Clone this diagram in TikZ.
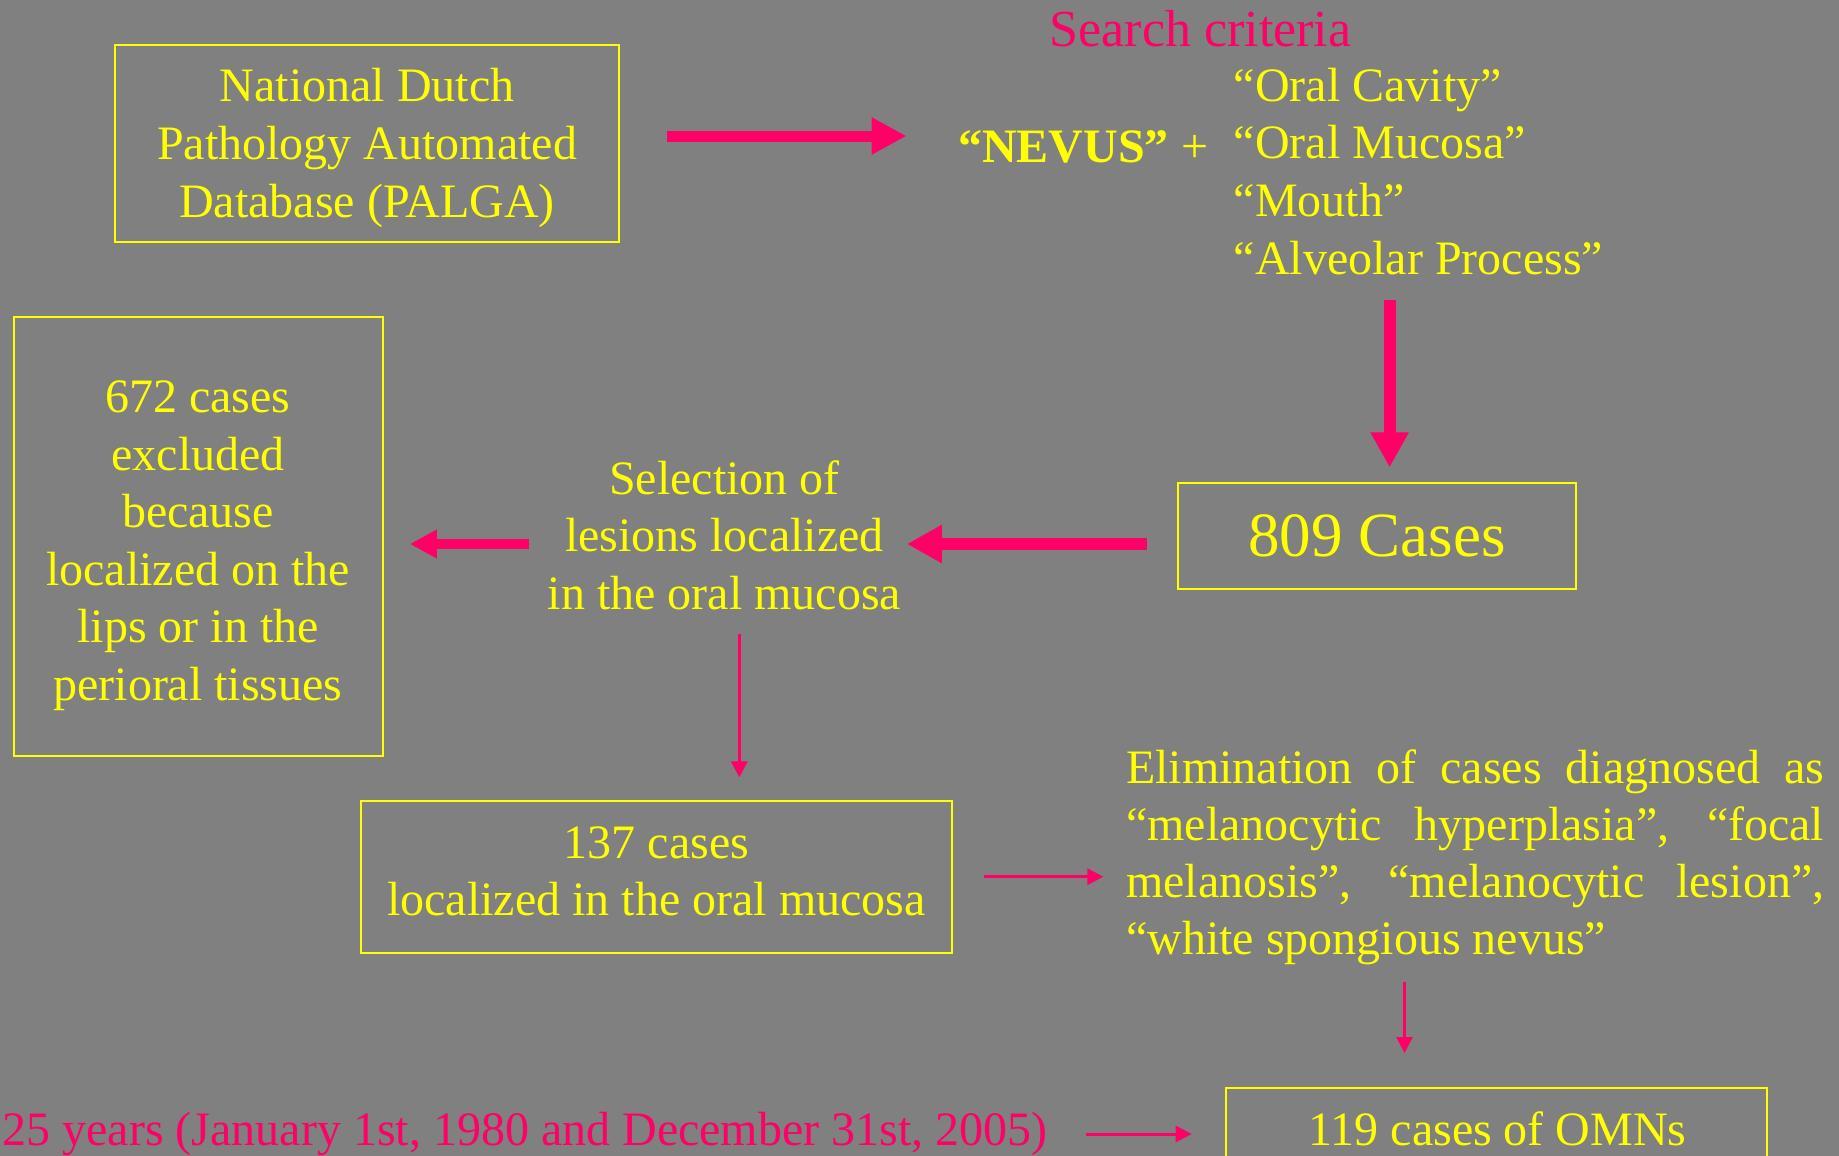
\documentclass[tikz,border=0pt]{standalone}
\usepackage{fontspec}
\setmainfont{Liberation Serif}
\usetikzlibrary{arrows.meta}
\definecolor{bg}{HTML}{808080}
\definecolor{ylw}{HTML}{FFFF00}
\definecolor{pnk}{HTML}{FF0066}
\newcommand{\txtsz}{\fontsize{48}{57.5}\selectfont}
\begin{document}
\begin{tikzpicture}[x=1pt,y=-1pt,
  ybox/.style={draw=ylw, line width=2pt, inner sep=0, fill=none},
  ytxt/.style={text=ylw, inner sep=0, anchor=base, font=\txtsz, yshift=-1.2pt},
  ptxt/.style={text=pnk, inner sep=0, anchor=base, font=\txtsz, yshift=-1.2pt},
  fatarrow/.style={draw=pnk, line width=12pt, -{Triangle[length=35pt,width=36pt]}},
  midarrow/.style={draw=pnk, line width=10pt, -{Triangle[length=27pt,width=27pt]}},
  thinarrow/.style={draw=pnk, line width=3pt, -{Triangle[length=16pt,width=16pt]}}]
\useasboundingbox (0,0) rectangle (1839,1156);
\clip (0,0) rectangle (1839,1156);
\fill[bg] (0,0) rectangle (1839,1156);

% PALGA box
\node[ybox, minimum width=504pt, minimum height=197pt] (palga) at (367,143.5) {};
\node[ytxt, font=\fontsize{48}{58}\selectfont] (palgatext) at (367,100.7)
  {\begin{tabular}[t]{@{}c@{}}National Dutch\\Pathology Automated\\Database (PALGA)\end{tabular}};

% Search criteria
\node[ptxt, font=\fontsize{52}{60}\selectfont] (crit) at (1200.5,45) {Search criteria};
\node[ytxt, anchor=base west] (nevus) at (958,161.7) {\bfseries “NEVUS”};
\node[ytxt] (plus) at (1195,161.7) {+};
\node[ytxt, anchor=base west, font=\fontsize{48}{57.7}\selectfont] (terms) at (1233.6,100)
  {\begin{tabular}[t]{@{}l@{}}“Oral Cavity”\\“Oral Mucosa”\\“Mouth”\\“Alveolar Process”\end{tabular}};

% 809 cases
\node[ybox, minimum width=398pt, minimum height=106pt] (c809) at (1377,536.3) {};
\node[ytxt, font=\fontsize{63}{70}\selectfont] (c809text) at (1377,555) {809 Cases};

% 672 box
\node[ybox, minimum width=369pt, minimum height=438.7pt] (box672) at (198,536.3) {};
\node[ytxt] (box672text) at (198,411.7)
  {\begin{tabular}[t]{@{}c@{}}672 cases\\excluded\\because\\localized on the\\lips or in the\\perioral tissues\end{tabular}};

% Selection
\node[ytxt] (select) at (724.5,493)
  {\begin{tabular}[t]{@{}c@{}}Selection of\\lesions localized\\in the oral mucosa\end{tabular}};

% 137 box
\node[ybox, minimum width=591pt, minimum height=151.7pt] (box137) at (656.5,876.9) {};
\node[ytxt, font=\fontsize{48}{56.5}\selectfont] (box137text) at (656.5,857.5)
  {\begin{tabular}[t]{@{}c@{}}137 cases\\localized in the oral mucosa\end{tabular}};

% Elimination
\node[ytxt, anchor=base west, font=\fontsize{48}{57}\selectfont] (elim) at (1126,782)
  {\begin{tabular}[t]{@{}l@{}}\makebox[698pt][s]{Elimination of cases diagnosed as}\\
   \makebox[698pt][s]{“melanocytic hyperplasia”, “focal}\\
   \makebox[698pt][s]{melanosis”, “melanocytic lesion”,}\\
   “white spongious nevus”\end{tabular}};

% 119 box
\node[ybox, minimum width=541.8pt, minimum height=110pt] (box119) at (1496.4,1143.3) {};
\node[ytxt] (box119text) at (1497.6,1144) {119 cases of OMNs};

% 25 years
\node[ptxt, anchor=base west] (years) at (2.3,1144) {25 years (January 1st, 1980 and December 31st, 2005)};

% connectors
\draw[draw=pnk, line width=11pt, -{Triangle[length=35pt,width=35pt]}]
  ([shift={(47,-7.5)}]palga.east) -- ([shift={(286.5,-7.5)}]palga.east);
\draw[fatarrow] ([shift={(12.6,-182.6)}]c809.north) -- ([shift={(12.6,-15)}]c809.north);
\draw[fatarrow] ([shift={(-30.1,7.7)}]c809.west) -- ([shift={(-270.1,7.7)}]c809.west);
\draw[midarrow] ([shift={(145.4,7.7)}]box672.east) -- ([shift={(26.4,7.7)}]box672.east);
\draw[thinarrow] ([shift={(82.8,-166)}]box137.north) -- ([shift={(82.8,-22.7)}]box137.north);
\draw[thinarrow] ([shift={(30.8,-0.2)}]box137.east) -- ([shift={(150.4,-0.2)}]box137.east);
\draw[thinarrow] ([shift={(-91.9,-105.6)}]box119.north) -- ([shift={(-91.9,-34.3)}]box119.north);
\draw[thinarrow] ([shift={(-138.5,-9.3)}]box119.west) -- ([shift={(-32.8,-9.3)}]box119.west);
\end{tikzpicture}
\end{document}
